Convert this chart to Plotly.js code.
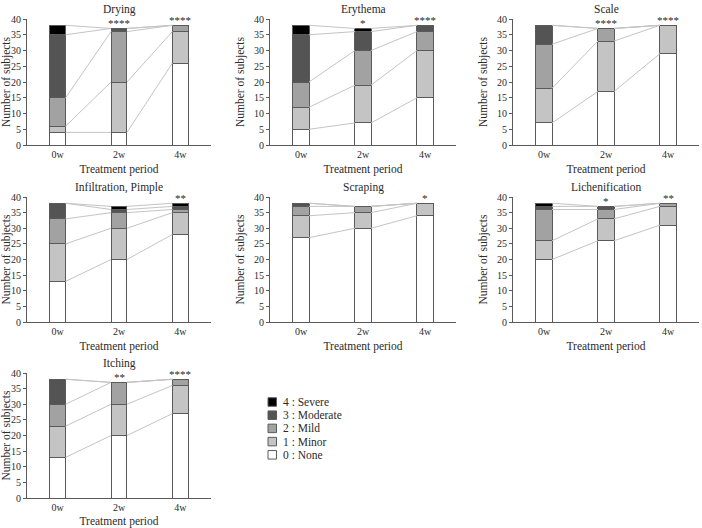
<!DOCTYPE html>
<html>
<head>
<meta charset="utf-8">
<script src="https://cdn.plot.ly/plotly-3.0.1.min.js"></script>
<style>
  html, body { margin: 0; padding: 0; background: #fff; }
  #chart { width: 702px; height: 528px; }
</style>
</head>
<body>
<div id="chart"></div>
<script>
// Treatment periods on the x axis
const periods = ['0w', '2w', '4w'];
// Severity grades, bottom of the stack first
const grades = ['0 : None', '1 : Minor', '2 : Mild', '3 : Moderate', '4 : Severe'];
const gradeColors = ['#ffffff', '#c4c4c4', '#a2a2a2', '#545454', '#000000'];

// Number of subjects per grade (rows: grade 0..4, columns: 0w, 2w, 4w)
const drying          = [[4, 4, 26], [2, 16, 10], [9, 16, 2], [20, 1, 0], [3, 0, 0]];
const erythema        = [[5, 7, 15], [7, 12, 15], [8, 11, 6], [15, 6, 2], [3, 1, 0]];
const scale           = [[7, 17, 29], [11, 16, 9], [14, 4, 0], [6, 0, 0], [0, 0, 0]];
const infiltration    = [[13, 20, 28], [12, 10, 7], [8, 5, 1], [5, 1, 1], [0, 1, 1]];
const scraping        = [[27, 30, 34], [7, 5, 4], [3, 2, 0], [1, 0, 0], [0, 0, 0]];
const lichenification = [[20, 26, 31], [6, 7, 6], [10, 3, 1], [1, 1, 0], [1, 0, 0]];
const itching         = [[13, 20, 27], [10, 10, 9], [7, 7, 2], [8, 0, 0], [0, 0, 0]];

// Significance marks above each period
const dryingStars          = ['', '****', '****'];
const erythemaStars        = ['', '*', '****'];
const scaleStars           = ['', '****', '****'];
const infiltrationStars    = ['', '', '**'];
const scrapingStars        = ['', '', '*'];
const lichenificationStars = ['', '*', '**'];
const itchingStars         = ['', '**', '****'];

const panels = [
  { title: 'Drying', counts: drying, stars: dryingStars, col: 0, row: 0 },
  { title: 'Erythema', counts: erythema, stars: erythemaStars, col: 1, row: 0 },
  { title: 'Scale', counts: scale, stars: scaleStars, col: 2, row: 0 },
  { title: 'Infiltration, Pimple', counts: infiltration, stars: infiltrationStars, col: 0, row: 1 },
  { title: 'Scraping', counts: scraping, stars: scrapingStars, col: 1, row: 1 },
  { title: 'Lichenification', counts: lichenification, stars: lichenificationStars, col: 2, row: 1 },
  { title: 'Itching', counts: itching, stars: itchingStars, col: 0, row: 2 }
];

const W = 702, H = 528;
const colPx = [[27, 211], [270, 456], [513, 699]];
const rowPx = [[19, 145], [197, 322], [373, 498]];
const barWidth = 0.26;
const FONT = '"Liberation Serif", "Times New Roman", serif';
const INK = '#2a2a2a';

const traces = [];
const layout = {
  width: W, height: H,
  margin: { l: 0, r: 0, t: 0, b: 0 },
  paper_bgcolor: '#fff', plot_bgcolor: '#fff',
  barmode: 'stack',
  font: { family: FONT, color: INK, size: 10 },
  showlegend: false,
  annotations: [],
  shapes: []
};

panels.forEach((p, idx) => {
  const n = idx + 1;
  const xa = 'x' + (n === 1 ? '' : n);
  const ya = 'y' + (n === 1 ? '' : n);
  const xKey = 'xaxis' + (n === 1 ? '' : n);
  const yKey = 'yaxis' + (n === 1 ? '' : n);
  const xd = colPx[p.col], yd = rowPx[p.row];

  layout[xKey] = {
    domain: [xd[0] / W, xd[1] / W], anchor: ya,
    range: [-0.5, 2.5], tickvals: [0, 1, 2], ticktext: periods,
    showgrid: false, zeroline: false, showline: true, linecolor: '#5a5a5a', linewidth: 1,
    ticks: '', tickfont: { family: FONT, size: 10, color: INK },
    title: { text: 'Treatment period', font: { family: FONT, size: 11.5, color: INK }, standoff: 5 },
    automargin: false, fixedrange: true
  };
  layout[yKey] = {
    domain: [1 - yd[1] / H, 1 - yd[0] / H], anchor: xa,
    range: [0, 40], dtick: 5, tick0: 0,
    showgrid: false, zeroline: false, showline: true, linecolor: '#5a5a5a', linewidth: 1,
    ticks: 'outside', ticklen: 3, tickcolor: '#5a5a5a',
    tickfont: { family: FONT, size: 10, color: INK },
    title: { text: 'Number of subjects', font: { family: FONT, size: 11.5, color: INK }, standoff: 6 },
    automargin: false, fixedrange: true
  };

  // stacked bars, one trace per grade
  const xs = [0, 1, 2];
  p.counts.forEach((vals, g) => {
    traces.push({
      type: 'bar', x: xs, y: vals, xaxis: xa, yaxis: ya,
      width: barWidth, name: grades[g],
      marker: { color: gradeColors[g], line: { color: '#5a5a5a', width: 1 } },
      hoverinfo: 'skip'
    });
  });

  // cumulative tops of each grade for the connector lines
  const cum = p.counts.map((_, g) =>
    xs.map(i => p.counts.slice(0, g + 1).reduce((s, r) => s + r[i], 0)));
  cum.forEach(level => {
    const lx = [], ly = [];
    for (let i = 0; i < xs.length - 1; i++) {
      lx.push(xs[i] + barWidth / 2, xs[i + 1] - barWidth / 2, null);
      ly.push(level[i], level[i + 1], null);
    }
    traces.push({
      type: 'scatter', mode: 'lines', x: lx, y: ly, xaxis: xa, yaxis: ya,
      line: { color: '#c4c4c4', width: 1 }, hoverinfo: 'skip'
    });
  });

  // significance stars above each bar
  const totals = cum[cum.length - 1];
  p.stars.forEach((s, i) => {
    if (!s) return;
    layout.annotations.push({
      xref: xa, yref: ya, x: xs[i], y: totals[i], text: s,
      showarrow: false, yanchor: 'bottom', yshift: -3,
      font: { family: FONT, size: 11, color: INK }
    });
  });

  // panel title
  layout.annotations.push({
    xref: 'paper', yref: 'paper',
    x: (xd[0] + xd[1]) / 2 / W, y: 1 - (yd[0] - 10) / H,
    text: p.title, showarrow: false, yanchor: 'middle', xanchor: 'center',
    font: { family: FONT, size: 11.5, color: INK }
  });
});

// grade key: swatch + label, most severe first
const keyLeft = 268, keyTop = 402, keyStep = 13.2, swatch = 8.5;
grades.slice().reverse().forEach((label, k) => {
  const g = grades.length - 1 - k;
  const cy = keyTop + k * keyStep;
  layout.shapes.push({
    type: 'rect', xref: 'paper', yref: 'paper',
    x0: keyLeft / W, x1: (keyLeft + swatch) / W,
    y0: 1 - (cy + swatch / 2) / H, y1: 1 - (cy - swatch / 2) / H,
    fillcolor: gradeColors[g], line: { color: '#5a5a5a', width: 1 }
  });
  layout.annotations.push({
    xref: 'paper', yref: 'paper', x: (keyLeft + swatch + 4) / W, y: 1 - cy / H,
    text: label, showarrow: false, xanchor: 'left', yanchor: 'middle',
    font: { family: FONT, size: 11.5, color: INK }
  });
});

Plotly.newPlot('chart', traces, layout, { displayModeBar: false, staticPlot: true });
</script>
</body>
</html>
